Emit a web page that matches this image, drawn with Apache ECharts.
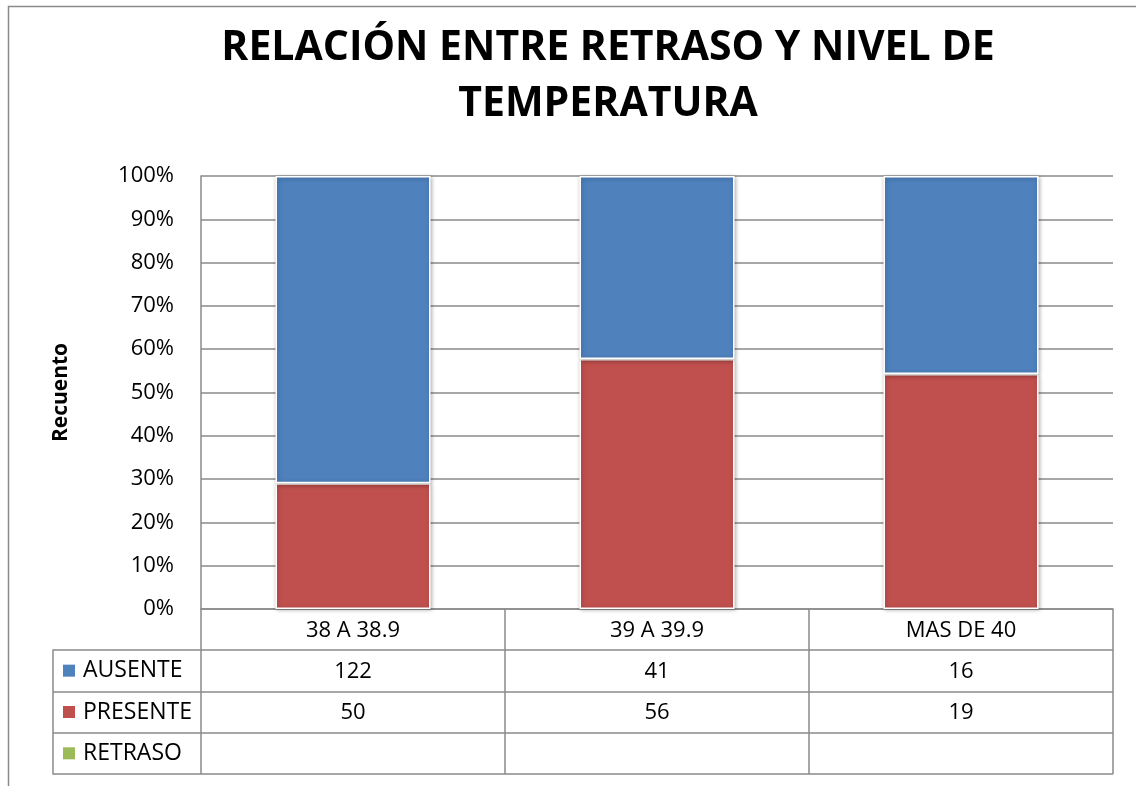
<!DOCTYPE html>
<html>
<head>
<meta charset="utf-8">
<script src="https://cdn.jsdelivr.net/npm/echarts@6/dist/echarts.min.js"></script>
<style>
  html, body { margin: 0; padding: 0; background: #fff; }
  #chart { width: 1136px; height: 786px; }
</style>
</head>
<body>
<div id="chart"></div>
<script>
const categories = ['38 A 38.9', '39 A 39.9', 'MAS DE 40'];
const ausente = [122, 41, 16];
const presente = [50, 56, 19];
const retraso = [null, null, null];
const rowNames = ['AUSENTE', 'PRESENTE', 'RETRASO'];
const rowColors = ['#4F81BD', '#C0504D', '#9BBB59'];

// 100% stacked: share of each column total
const totals = categories.map((c, i) => (ausente[i] || 0) + (presente[i] || 0) + (retraso[i] || 0));
const pct = arr => arr.map((v, i) => v == null ? null : v / totals[i] * 100);

const lineGray = '#8a8a8a';
const font = 'Open Sans';

const rich = {};
rowNames.forEach((n, i) => {
  rich['k' + i] = { width: 12, height: 12, backgroundColor: rowColors[i] };
  rich['t' + i] = { fontSize: 23, fontFamily: font, color: '#000', padding: [0, 0, 0, 8] };
});

const barStyle = color => ({
  color: color,
  borderColor: '#fff',
  borderWidth: 1.5,
  shadowBlur: 4,
  shadowColor: 'rgba(0,0,0,0.3)',
  shadowOffsetX: 1,
  shadowOffsetY: 1
});

const chart = echarts.init(document.getElementById('chart'));
chart.setOption({
  animation: false,
  textStyle: { fontFamily: font },
  title: {
    text: 'RELACIÓN ENTRE RETRASO Y NIVEL DE\nTEMPERATURA',
    left: 603,
    top: 15,
    textAlign: 'center',
    textStyle: { fontSize: 41, fontWeight: 'bold', color: '#000', lineHeight: 56, fontFamily: font }
  },
  graphic: [{
    type: 'rect',
    silent: true,
    z: -1,
    shape: { x: 8.5, y: 6.5, width: 2000, height: 2000 },
    style: { fill: 'none', stroke: lineGray, lineWidth: 1.5 }
  }],
  grid: [
    { left: 201, right: 23, top: 176, bottom: 177 },
    { left: 53, right: 23, top: 650, bottom: 12 }
  ],
  xAxis: [
    {
      type: 'category',
      gridIndex: 0,
      data: categories,
      axisLine: { lineStyle: { color: lineGray, width: 1.5 } },
      axisTick: { show: true, interval: 0, length: 165, lineStyle: { color: lineGray, width: 1.5 } },
      axisLabel: {
        interval: 0,
        margin: 1,
        fontSize: 22,
        lineHeight: 41,
        color: '#000',
        formatter: (v, i) => [v, ausente[i] ?? '', presente[i] ?? '', retraso[i] ?? ''].join('\n')
      }
    },
    { type: 'value', gridIndex: 1, show: false, min: 0, max: 1 }
  ],
  yAxis: [
    {
      type: 'value',
      gridIndex: 0,
      min: 0,
      max: 100,
      interval: 10,
      name: 'Recuento',
      nameLocation: 'middle',
      nameRotate: 90,
      nameGap: 129,
      nameTextStyle: { fontSize: 21, fontWeight: 'bold', color: '#000' },
      axisLine: { show: true, lineStyle: { color: lineGray, width: 1.5 } },
      axisTick: { show: false },
      axisLabel: { fontSize: 22, color: '#000', margin: 27, formatter: '{value}%' },
      splitLine: { lineStyle: { color: lineGray, width: 1.5 } }
    },
    {
      type: 'category',
      gridIndex: 1,
      data: rowNames,
      inverse: true,
      axisLine: { show: true, lineStyle: { color: lineGray, width: 1.5 } },
      axisTick: { show: false },
      splitLine: { show: true, interval: 0, lineStyle: { color: lineGray, width: 1.5 } },
      axisLabel: {
        inside: true,
        interval: 0,
        margin: 10,
        formatter: (v, i) => '{k' + i + '|}{t' + i + '|' + v + '}',
        rich: rich
      }
    }
  ],
  series: [
    { name: 'PRESENTE', type: 'bar', stack: 'total', barWidth: '51%', data: pct(presente), itemStyle: barStyle(rowColors[1]) },
    { name: 'AUSENTE', type: 'bar', stack: 'total', barWidth: '51%', data: pct(ausente), itemStyle: barStyle(rowColors[0]) },
    { name: 'RETRASO', type: 'bar', stack: 'total', barWidth: '51%', data: pct(retraso), itemStyle: barStyle(rowColors[2]) }
  ]
});
</script>
</body>
</html>
